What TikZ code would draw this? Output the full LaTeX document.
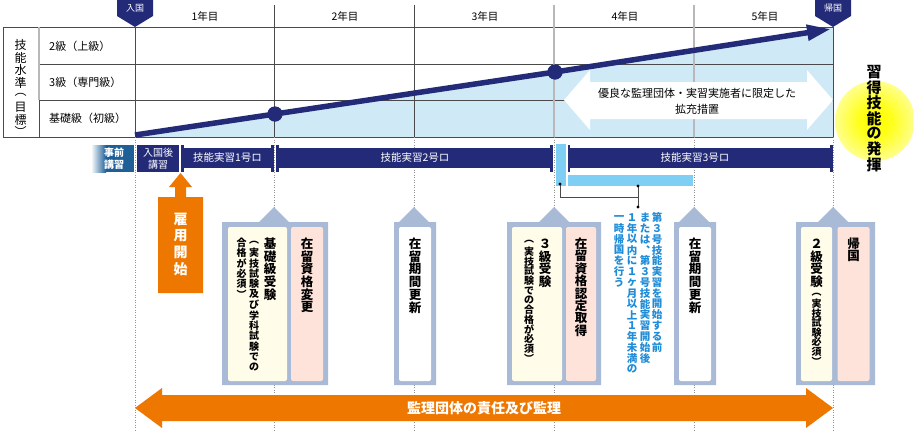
\documentclass[tikz,border=0pt]{standalone}
\usepackage{fontspec}
\setmainfont{Noto Sans CJK JP}
\usetikzlibrary{arrows.meta}
\definecolor{navy}{HTML}{232B79}
\definecolor{skyfill}{HTML}{CFE9F6}
\definecolor{jizen}{HTML}{1F5F98}
\definecolor{ltblue}{HTML}{7FCEF3}
\definecolor{orng}{HTML}{EE7700}
\definecolor{framec}{HTML}{A9BAD6}
\definecolor{cream}{HTML}{FFFCEA}
\definecolor{pinkish}{HTML}{FDE3DA}
\definecolor{notecol}{HTML}{1E8CD8}
\definecolor{lgray}{HTML}{B8B8B8}
\definecolor{dgray}{HTML}{4A4A4A}
\pgfdeclareradialshading{glow}{\pgfpoint{0bp}{0bp}}{color(0bp)=(yellow); color(10bp)=(yellow!90!white); color(25bp)=(yellow!45!white); color(40bp)=(yellow!10!white); color(50bp)=(white)}
% vertical text stacking
\newcommand\myvt[2][1.02em]{\vbox{\offinterlineskip\def\myvtp{#1}\myvtloop#2\myvtend}}
\def\myvtend{\myvtend}
\def\myvtloop#1{\ifx#1\myvtend\else\myvtchar{#1}\expandafter\myvtloop\fi}
\def\myvtchar#1{\hbox to 1em{\hss\vbox to \myvtp{\vss\hbox{#1}\vss}\hss}}
\newcommand\calloutframe[3]{\fill[framec] (#1,385) -- (#1,222) -- ({#3-15},222) -- (#3,207) -- ({#3+15},222) -- (#2,222) -- (#2,385) -- cycle;}
\newcommand\barseg[3]{\fill[#3] (#1,148) rectangle (#2,168);
  \fill[#3] (#1,144.5) rectangle ({#1+2.6},171.5);
  \fill[#3] ({#2-2.6},144.5) rectangle (#2,171.5);}
\begin{document}
\begin{tikzpicture}[x=1pt,y=-1pt,
  tl/.style={draw=dgray,line width=0.6pt},
  gl/.style={draw=lgray,line width=1.3pt},
  dotl/.style={draw=gray!85,line width=0.5pt,dash pattern=on 1pt off 1.5pt},
  lbl/.style={inner sep=0pt,anchor=west,font=\fontsize{11}{13}\selectfont},
  yr/.style={inner sep=0pt,font=\fontsize{10.5}{12}\selectfont},
  tagtxt/.style={inner sep=0pt,text=white,font=\fontsize{9}{10}\selectfont},
  bartxt/.style={inner sep=0pt,text=white,font=\fontsize{10.5}{12}\selectfont},
  smallbar/.style={inner sep=0pt,text=white,align=center,font=\fontsize{10}{12.5}\selectfont},
  vtitle/.style={inner sep=0pt,anchor=north,font=\fontsize{12.5}{13}\selectfont\bfseries},
  vsub/.style={inner sep=0pt,anchor=north,font=\fontsize{10}{11}\selectfont\bfseries},
  note/.style={inner sep=0pt,anchor=north,text=notecol,font=\fontsize{10.5}{11}\selectfont\bfseries},
  dotn/.style={circle,fill=navy,inner sep=0pt,minimum size=15pt},
  conn/.style={draw=dgray,line width=0.8pt},
]
\useasboundingbox (0,0) rectangle (913,432);
\fill[white] (0,0) rectangle (913,432);

% glow behind the right label
\shade[shading=glow] (875,121) circle (40pt);

% light blue area under the trend line
\fill[skyfill] (135,137) -- (135,135) -- (833,27) -- (833,137) -- cycle;

% table lines
\draw[tl] (3,27) -- (833,27);
\draw[tl] (39,64) -- (833,64);
\draw[tl] (39,100) -- (833,100);
\draw[tl] (3,137) -- (833,137);
\draw[tl] (3,27) -- (3,137);
\draw[gl] (39,27) -- (39,100);
\draw[tl] (39,100) -- (39,137);
\draw[tl] (135,27) -- (135,137);
\draw[tl] (274,5) -- (274,137);
\draw[tl] (414,5) -- (414,137);
\draw[gl] (554,5) -- (554,137);
\draw[gl] (694,5) -- (694,137);
\draw[tl] (833,27) -- (833,137);

% year labels
\node[yr] (y1) at (205,16) {1年目};
\node[yr] (y2) at (345,16) {2年目};
\node[yr] (y3) at (485,16) {3年目};
\node[yr] (y4) at (625,16) {4年目};
\node[yr] (y5) at (765,16) {5年目};

% left column labels
\node[anchor=north,inner sep=0pt,font=\fontsize{12}{13}\selectfont] (suijun) at (20.5,39) {\myvt[1.03em]{技能水準︵目標︶}};
\node[lbl] (r1) at (49,46.5) {2級（上級）};
\node[lbl] (r2) at (49,82) {3級（専門級）};
\node[lbl] (r3) at (49,118) {基礎級（初級）};

% white double arrow
\fill[white] (564,100) -- (590,70) -- (590,82) -- (807,82) -- (807,70) -- (833,100)
  -- (807,130) -- (807,119) -- (590,119) -- (590,130) -- cycle;
\node[align=center,inner sep=0pt,font=\fontsize{11}{16}\selectfont] (kakuju) at (697,101)
  {優良な監理団体・実習実施者に限定した\\拡充措置};

% trend line
\coordinate (ts) at (135,135);
\coordinate (te) at (831,29);
\node[dotn] (d1) at (275,114) {};
\node[dotn] (d2) at (555,72) {};
\draw[navy,line width=5.5pt,-{Triangle[length=24pt,width=15pt]}] (ts) -- (d1.center) -- (d2.center) -- (te);
\fill[navy] (d1) circle (7.5pt);
\fill[navy] (d2) circle (7.5pt);

% tags
\fill[navy] (117,0) -- (153,0) -- (153,16) -- (135,27) -- (117,16) -- cycle;
\node[tagtxt] (nyukoku) at (135,8.5) {入国};
\fill[navy] (815,0) -- (851,0) -- (851,16) -- (833,27) -- (815,16) -- cycle;
\node[tagtxt] (kikoku) at (833,8.5) {帰国};

% dotted guides
\foreach \xx in {135,274,414,554,694,833} {\draw[dotl] (\xx,137) -- (\xx,432);}

% bars
\shade[left color=white,right color=jizen] (91,145) rectangle (106,172);
\fill[jizen] (105.5,145) rectangle (133.5,172);
\node[smallbar,font=\fontsize{10}{12.5}\selectfont\bfseries] (jizen) at (114,158.5) {事前\\講習};
\fill[navy] (137,145) rectangle (178.5,172);
\node[smallbar] (nkg) at (158,158.5) {入国後\\講習};
\barseg{181}{273.5}{navy}
\node[bartxt] (g1) at (227.5,158) {技能実習1号ロ};
\barseg{276}{553}{navy}
\node[bartxt] (g2) at (415,158) {技能実習2号ロ};
\barseg{567.5}{833}{navy}
\node[bartxt] (g3) at (695,158) {技能実習3号ロ};

% light blue bars and bracket
\fill[ltblue] (556,144) rectangle (565.5,186);
\fill[ltblue] (567.5,175) rectangle (693,186);
\coordinate (c1) at (560,184);
\coordinate (c2) at (638,186);
\coordinate (c3) at (638,207);
\coordinate (cm) at (638,197);
\draw[conn] (c1) |- (cm);
\draw[conn] (c2) -- (c3);
\fill[black] (c1) circle (1.7pt);
\fill[black] (c2) circle (1.7pt);
\fill[black] (c3) circle (1.7pt);

% orange up arrow
\fill[orng] (180.5,173) -- (192,187) -- (186,187) -- (186,197) -- (203,197) -- (203,293)
  -- (158,293) -- (158,197) -- (175,197) -- (175,187) -- (169,187) -- cycle;
\node[inner sep=0pt,anchor=north,text=white,font=\fontsize{14}{15}\selectfont\bfseries] (koyo) at (180.5,211) {\myvt[1.18em]{雇用開始}};

% callouts
\calloutframe{222}{328}{274}
\fill[cream,rounded corners=2pt] (228,227) rectangle (287,381);
\fill[pinkish,rounded corners=2pt] (291,227) rectangle (323,381);
\node[vtitle] (k1a) at (270,237) {\myvt{基礎級受験}};
\node[vsub] (k1b) at (254,237) {\myvt[1.04em]{︵実技試験及び学科試験での}};
\node[vsub] (k1c) at (241.5,237) {\myvt[1.04em]{合格が必須︶}};
\node[vtitle] (k1d) at (307,237) {\myvt{在留資格変更}};

\calloutframe{394}{436}{414}
\fill[white,rounded corners=2pt] (399,227) rectangle (431,381);
\node[vtitle] (k2) at (415,237) {\myvt{在留期間更新}};

\calloutframe{507}{601}{554}
\fill[cream,rounded corners=2pt] (512,227) rectangle (562,381);
\fill[pinkish,rounded corners=2pt] (566,227) rectangle (596,381);
\node[vtitle] (k3a) at (545,237) {\myvt{３級受験}};
\node[vsub] (k3b) at (529,237) {\myvt[0.97em]{︵実技試験での合格が必須︶}};
\node[vtitle] (k3c) at (581,237) {\myvt[1.0em]{在留資格認定取得}};

\calloutframe{674}{716}{694}
\fill[white,rounded corners=2pt] (679,227) rectangle (711,381);
\node[vtitle] (k4) at (695,237) {\myvt{在留期間更新}};

\calloutframe{796}{875}{833}
\fill[cream,rounded corners=2pt] (801,227) rectangle (832,381);
\fill[pinkish,rounded corners=2pt] (837.5,227) rectangle (869.5,381);
\node[vtitle] (k5a) at (816.5,237) {\myvt{２級受験}};
\node[vsub] (k5b) at ([yshift=-1pt]k5a.south) {\myvt[0.95em]{︵実技試験必須︶}};
\node[vtitle] (k5c) at (853.5,237) {\myvt{帰国}};

% blue note
\node[note] (n1) at (657,212) {\myvt[1.03em]{第３号技能実習を開始する前}};
\node[note] (n2) at (645,212) {\myvt[1.03em]{または︑第３号技能実習開始後}};
\node[note] (n3) at (632,212) {\myvt[1.03em]{１年以内に１ヶ月以上１年未満の}};
\node[note] (n4) at (619,212) {\myvt[1.03em]{一時帰国を行う}};

% orange double arrow
\fill[orng] (135,408) -- (162,388) -- (162,395) -- (806,395) -- (806,388) -- (833,408)
  -- (806,428) -- (806,421) -- (162,421) -- (162,428) -- cycle;
\node[inner sep=0pt,text=white,font=\fontsize{14}{15}\selectfont\bfseries] (kanri) at (484,408) {監理団体の責任及び監理};

% right label
\node[anchor=north,inner sep=0pt,font=\fontsize{15}{16}\selectfont\bfseries] (hakki) at (874,64) {\myvt[1.03em]{習得技能の発揮}};
\end{tikzpicture}
\end{document}
